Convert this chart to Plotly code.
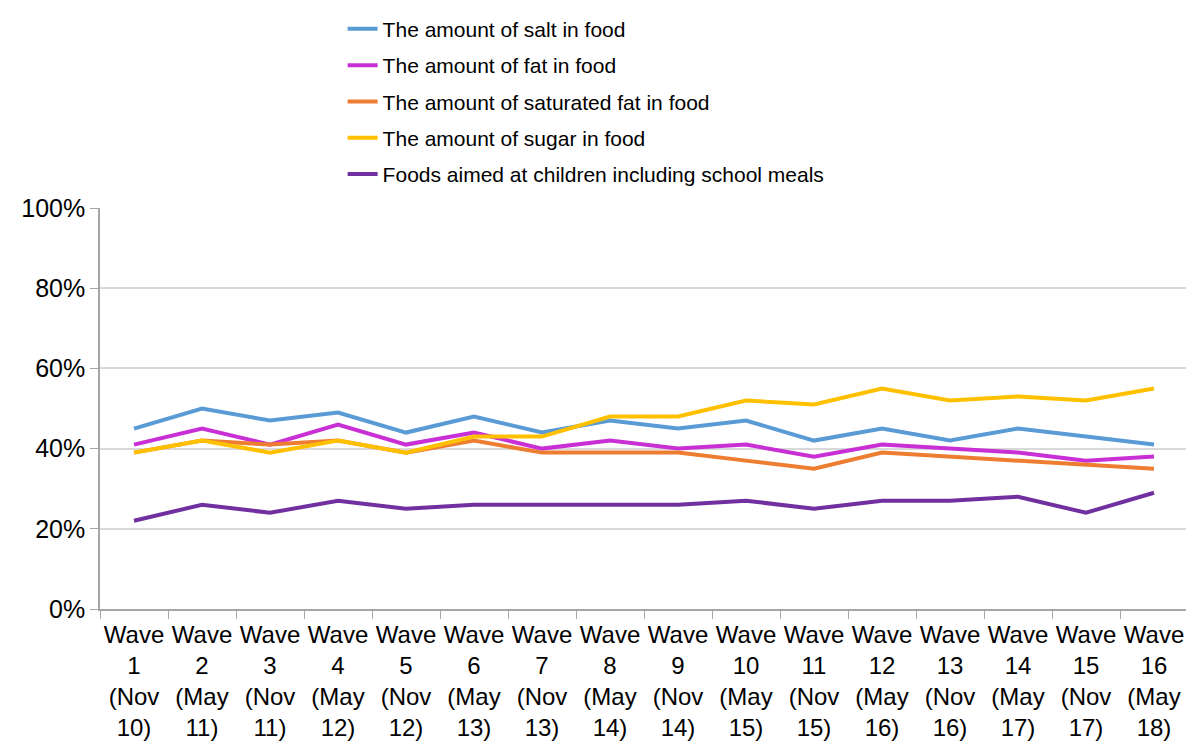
import plotly.graph_objects as go

categories = ["Wave<br>1<br>(Nov<br>10)", "Wave<br>2<br>(May<br>11)", "Wave<br>3<br>(Nov<br>11)", "Wave<br>4<br>(May<br>12)",
              "Wave<br>5<br>(Nov<br>12)", "Wave<br>6<br>(May<br>13)", "Wave<br>7<br>(Nov<br>13)", "Wave<br>8<br>(May<br>14)",
              "Wave<br>9<br>(Nov<br>14)", "Wave<br>10<br>(May<br>15)", "Wave<br>11<br>(Nov<br>15)", "Wave<br>12<br>(May<br>16)",
              "Wave<br>13<br>(Nov<br>16)", "Wave<br>14<br>(May<br>17)", "Wave<br>15<br>(Nov<br>17)", "Wave<br>16<br>(May<br>18)"]

salt = [45, 50, 47, 49, 44, 48, 44, 47, 45, 47, 42, 45, 42, 45, 43, 41]
fat = [41, 45, 41, 46, 41, 44, 40, 42, 40, 41, 38, 41, 40, 39, 37, 38]
sat_fat = [39, 42, 41, 42, 39, 42, 39, 39, 39, 37, 35, 39, 38, 37, 36, 35]
sugar = [39, 42, 39, 42, 39, 43, 43, 48, 48, 52, 51, 55, 52, 53, 52, 55]
children = [22, 26, 24, 27, 25, 26, 26, 26, 26, 27, 25, 27, 27, 28, 24, 29]

series = [
    ("The amount of salt in food", salt, "#5B9BD5"),
    ("The amount of fat in food", fat, "#C82FD4"),
    ("The amount of saturated fat in food", sat_fat, "#ED7D31"),
    ("The amount of sugar in food", sugar, "#FFC000"),
    ("Foods aimed at children including school meals", children, "#7030A0"),
]

fig = go.Figure()
for i, (name, vals, color) in enumerate(series):
    fig.add_trace(go.Scatter(
        x=categories, y=[v / 100 for v in vals], name=name, mode="lines",
        line=dict(color=color, width=4), legendgroup=f"g{i}",
    ))

font = "Liberation Sans, Arial, sans-serif"
# page body has an 8px default margin; figure sized/margined to compensate
fig.update_layout(
    width=1180, height=737,
    paper_bgcolor="white", plot_bgcolor="white",
    margin=dict(l=92, r=0, t=200, b=136),
    font=dict(family=font, size=24, color="#000000"),
    showlegend=True,
    legend=dict(x=0.223, y=1.497, xanchor="left", yanchor="top",
                font=dict(size=21, family=font), tracegroupgap=6,
                bgcolor="rgba(0,0,0,0)"),
    xaxis=dict(type="category", showline=True, linecolor="#A6A6A6", linewidth=1.5,
               ticks="outside", tickson="boundaries", ticklen=8, tickcolor="#A6A6A6",
               showgrid=False, tickfont=dict(size=24, family=font), tickangle=0,
               ticklabelstandoff=3,
               range=[-0.5, 15.5], automargin=False),
    yaxis=dict(range=[0, 1], tickformat=".0%", dtick=0.2, showline=True,
               linecolor="#A6A6A6", linewidth=1.5, ticks="outside", ticklen=8,
               tickcolor="#A6A6A6", gridcolor="#D9D9D9", gridwidth=1.5,
               zeroline=False, tickfont=dict(size=25, family=font), automargin=False),
)

fig.write_html("out.html")
